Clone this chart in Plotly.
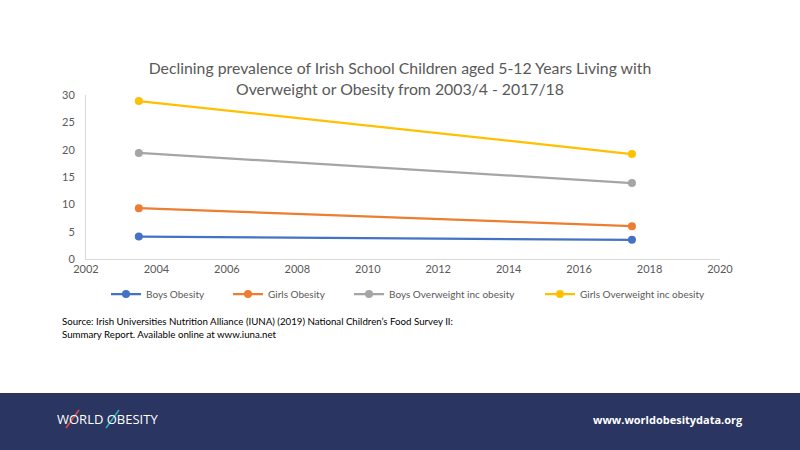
import plotly.graph_objects as go

years = [2003.5, 2017.5]
boys_obesity = [4.1, 3.5]
girls_obesity = [9.3, 6.0]
boys_overweight = [19.4, 13.9]
girls_overweight = [28.9, 19.2]

series = [
    ("Boys Obesity", boys_obesity, "#4472C4"),
    ("Girls Obesity", girls_obesity, "#ED7D31"),
    ("Boys Overweight inc obesity", boys_overweight, "#A5A5A5"),
    ("Girls Overweight inc obesity", girls_overweight, "#FFC000"),
]
x_ticks = [2002, 2004, 2006, 2008, 2010, 2012, 2014, 2016, 2018, 2020]
y_ticks = [0, 5, 10, 15, 20, 25, 30]

W, H = 800, 450
L, R, T, B = 86, 80, 95, 191
PW, PH = W - L - R, H - T - B


def px(x):
    return (x - L) / PW


def py(y):
    return (H - B - y) / PH


FONT = "Lato"
fig = go.Figure()
legend_x = [114, 236, 357, 548]
for i, (name, vals, col) in enumerate(series):
    lg = "legend" if i == 0 else f"legend{i+1}"
    fig.add_trace(go.Scatter(
        x=years, y=vals, name=name, mode="lines+markers",
        line=dict(color=col, width=2.25),
        marker=dict(color=col, size=8),
        legend=lg,
    ))

legend_common = dict(
    orientation="h", yanchor="middle", xanchor="left",
    font=dict(family=FONT, size=10, color="#595959"),
    bgcolor="rgba(0,0,0,0)", itemwidth=30,
)
layout_legends = {}
for i, lx in enumerate(legend_x):
    key = "legend" if i == 0 else f"legend{i+1}"
    layout_legends[key] = dict(legend_common, x=px(lx - 8), y=py(294))

fig.update_layout(
    width=W, height=H,
    margin=dict(l=L, r=R, t=T, b=B),
    paper_bgcolor="white", plot_bgcolor="white",
    title=dict(
        text="Declining prevalence of Irish School Children aged 5-12 Years Living with<br>Overweight or Obesity from 2003/4 - 2017/18",
        x=0.5, xanchor="center", xref="container",
        y=1 - 74 / H, yanchor="middle", yref="container",
        font=dict(family=FONT, size=15.8, color="#595959"),
    ),
    xaxis=dict(
        range=[2002, 2020], tickvals=x_ticks, showgrid=False, zeroline=False,
        showline=True, linecolor="#D9D9D9", linewidth=1,
        tickfont=dict(family=FONT, size=11, color="#595959"), ticks="",
    ),
    yaxis=dict(
        range=[0, 30], tickvals=y_ticks, showgrid=False, zeroline=False,
        showline=True, linecolor="#D9D9D9", linewidth=1,
        tickfont=dict(family=FONT, size=11, color="#595959"), ticks="",
        ticklabelstandoff=8,
    ),
    showlegend=True,
    **layout_legends,
)

# footer band
fig.add_shape(type="rect", xref="paper", yref="paper",
              x0=px(-10), x1=px(W + 10), y0=py(393), y1=py(H + 10),
              fillcolor="#2A3561", line=dict(width=0), layer="below")

fig.add_annotation(
    xref="paper", yref="paper", x=px(60), y=py(327), xanchor="left", yanchor="middle",
    align="left", showarrow=False,
    text="Source: Irish Universities Nutrition Alliance (IUNA) (2019) National Children’s Food Survey II:<br>Summary Report. Available online at www.iuna.net",
    font=dict(family=FONT, size=9.7, color="#000000"),
)
fig.add_annotation(
    xref="paper", yref="paper", x=px(55), y=py(419), xanchor="left", yanchor="middle",
    showarrow=False, text="WORLD OBESITY",
    font=dict(family="Open Sans", size=13, color="white"),
)
fig.add_shape(type="line", xref="paper", yref="paper",
              x0=px(66), y0=py(428), x1=px(79), y1=py(410),
              line=dict(color="#E0523F", width=1.5))
fig.add_shape(type="line", xref="paper", yref="paper",
              x0=px(106), y0=py(428), x1=px(119), y1=py(410),
              line=dict(color="#2BB3C0", width=1.5))
fig.add_annotation(
    xref="paper", yref="paper", x=px(745), y=py(419), xanchor="right", yanchor="middle",
    showarrow=False, text="<b>www.worldobesitydata.org</b>",
    font=dict(family="Open Sans", size=11, color="white"),
)

fig.write_html("out.html")
